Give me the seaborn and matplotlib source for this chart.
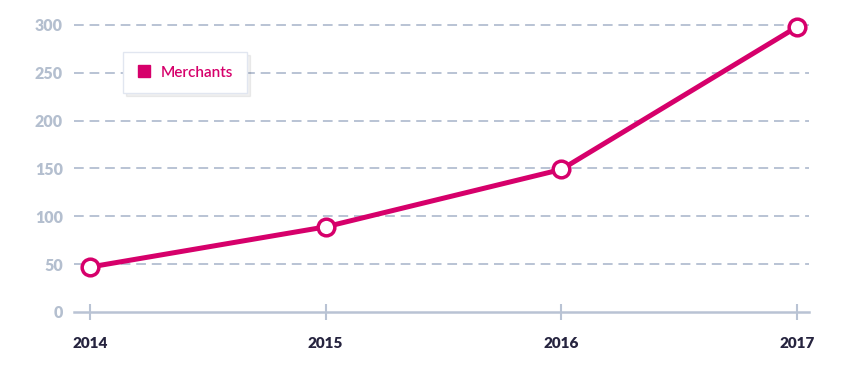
import pandas as pd
import matplotlib.pyplot as plt
import seaborn as sns
from matplotlib.lines import Line2D

years = [2014, 2015, 2016, 2017]
merchants = [47, 89, 149, 298]
y_ticks = [0, 50, 100, 150, 200, 250, 300]

pink = '#d6006b'
grid_col = '#b9c3d4'
tick_col = '#b4bfcf'
year_col = '#26243f'

df = pd.DataFrame({'year': years, 'merchants': merchants})

sns.set_style('white')
plt.rcParams['font.family'] = ['Lato', 'DejaVu Sans']

fig = plt.figure(figsize=(8.47, 3.65), dpi=100)
ax = fig.add_axes([74 / 847, 53 / 365, 735 / 847, 287 / 365])

sns.lineplot(data=df, x='year', y='merchants', ax=ax, color=pink, linewidth=3.6,
             marker='o', markersize=12, markerfacecolor='white',
             markeredgecolor=pink, markeredgewidth=2.5, zorder=5, clip_on=False)

ax.set_xlim(2014 - 16 / 235.7, 2017 + 12 / 235.7)
ax.set_ylim(0, 300)
ax.set_xticks(years)
ax.set_xticklabels([str(y) for y in years])
ax.set_yticks(y_ticks)
ax.set_xlabel('')
ax.set_ylabel('')

# dashed horizontal grid
for v in y_ticks[1:]:
    ax.axhline(v, color=grid_col, linestyle=(0, (5, 3)), linewidth=1.4, zorder=1, clip_on=False)

for side in ['top', 'right', 'left']:
    ax.spines[side].set_visible(False)
ax.spines['bottom'].set_color(grid_col)
ax.spines['bottom'].set_linewidth(1.8)

ax.tick_params(axis='x', bottom=True, direction='inout', length=12, width=1.5, color=grid_col,
               pad=12, labelsize=11, labelcolor=year_col)
ax.tick_params(axis='y', left=False, length=0, pad=8, labelsize=11.5, labelcolor=tick_col)
for lbl in ax.get_xticklabels() + ax.get_yticklabels():
    lbl.set_fontweight('heavy')

handle = Line2D([], [], color=pink, marker='s', linestyle='none', markersize=8)
leg = ax.legend([handle], ['Merchants'], loc='upper left', bbox_to_anchor=(0.0667, 0.906),
                borderaxespad=0, frameon=True, fancybox=False, handletextpad=0.6,
                borderpad=0.9, handlelength=1.0, prop={'size': 11, 'weight': 'semibold'},
                shadow={'color': '#000000', 'alpha': 0.06})
leg.get_frame().set_edgecolor('#e1e6f0')
leg.get_frame().set_linewidth(1.0)
for t in leg.get_texts():
    t.set_color(pink)

plt.savefig('out.png', dpi=100)
